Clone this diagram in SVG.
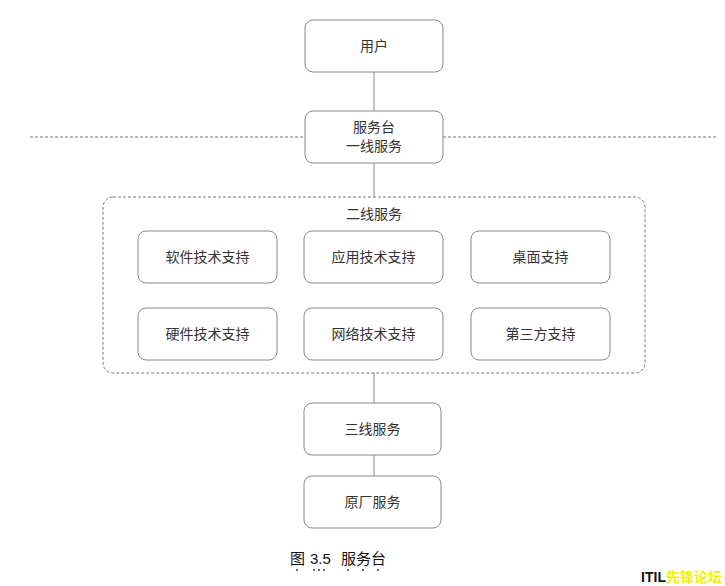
<svg xmlns="http://www.w3.org/2000/svg" width="725" height="586" viewBox="0 0 725 586">
<style>
.b{fill:#fff;stroke:#8a8a8a;stroke-width:1}
.t{font-family:"Liberation Serif","Noto Sans CJK SC",serif;font-size:14px;fill:#333;text-anchor:middle}
.l{stroke:#8a8a8a;stroke-width:1;fill:none}
.d{stroke:#777;stroke-width:1;stroke-dasharray:3,2;fill:none}
.c{font-family:"Liberation Sans","Noto Sans CJK SC",sans-serif;font-size:15px;fill:#111}
</style>
<rect width="725" height="586" fill="#fff"/>
<g id="connectors">
<line class="l" x1="374" y1="72" x2="374" y2="111"/>
<line class="l" x1="374" y1="163" x2="374" y2="197"/>
<line class="l" x1="374" y1="373" x2="374" y2="403"/>
<line class="l" x1="374" y1="455" x2="374" y2="476"/>
<line class="d" x1="30" y1="137" x2="305" y2="137"/>
<line class="d" x1="443" y1="137" x2="718" y2="137"/>
</g>
<g id="user"><rect class="b" x="305" y="20" width="138" height="52" rx="8"/><text class="t" x="374" y="51">用户</text></g>
<g id="desk"><rect class="b" x="305" y="111" width="138" height="52" rx="8"/><text class="t" x="374" y="132">服务台</text><text class="t" x="374" y="151">一线服务</text></g>
<g id="level2"><rect class="d" x="103" y="197" width="542" height="176" rx="10"/><text class="t" x="374" y="219">二线服务</text></g>
<g id="sw"><rect class="b" x="138" y="231" width="139" height="52" rx="8"/><text class="t" x="207.500" y="262">软件技术支持</text></g>
<g id="app"><rect class="b" x="304" y="231" width="139" height="52" rx="8"/><text class="t" x="373.500" y="262">应用技术支持</text></g>
<g id="desktop"><rect class="b" x="471" y="231" width="139" height="52" rx="8"/><text class="t" x="540.500" y="262">桌面支持</text></g>
<g id="hw"><rect class="b" x="138" y="308" width="139" height="52" rx="8"/><text class="t" x="207.500" y="339">硬件技术支持</text></g>
<g id="net"><rect class="b" x="304" y="308" width="139" height="52" rx="8"/><text class="t" x="373.500" y="339">网络技术支持</text></g>
<g id="third"><rect class="b" x="471" y="308" width="139" height="52" rx="8"/><text class="t" x="540.500" y="339">第三方支持</text></g>
<g id="level3"><rect class="b" x="304" y="403" width="137" height="52" rx="8"/><text class="t" x="372.500" y="434">三线服务</text></g>
<g id="vendor"><rect class="b" x="304" y="476" width="137" height="52" rx="8"/><text class="t" x="372.500" y="507">原厂服务</text></g>
<g id="caption">
<text class="c" y="564"><tspan x="290">图</tspan><tspan x="310">3.5</tspan><tspan x="341">服务台</tspan></text>
<g fill="#222"><circle cx="297" cy="570" r="0.9"/><circle cx="314" cy="570" r="0.9"/><circle cx="319" cy="570" r="0.9"/><circle cx="324" cy="570" r="0.9"/><circle cx="348" cy="570" r="0.9"/><circle cx="363" cy="570" r="0.9"/><circle cx="378" cy="570" r="0.9"/></g>
</g>
<text x="722" y="582" text-anchor="end" style="font-family:'Liberation Sans','Noto Sans CJK SC',sans-serif;font-size:14px;font-weight:bold"><tspan fill="#111">ITIL</tspan><tspan fill="#f2f000">先锋论坛</tspan></text>
</svg>
